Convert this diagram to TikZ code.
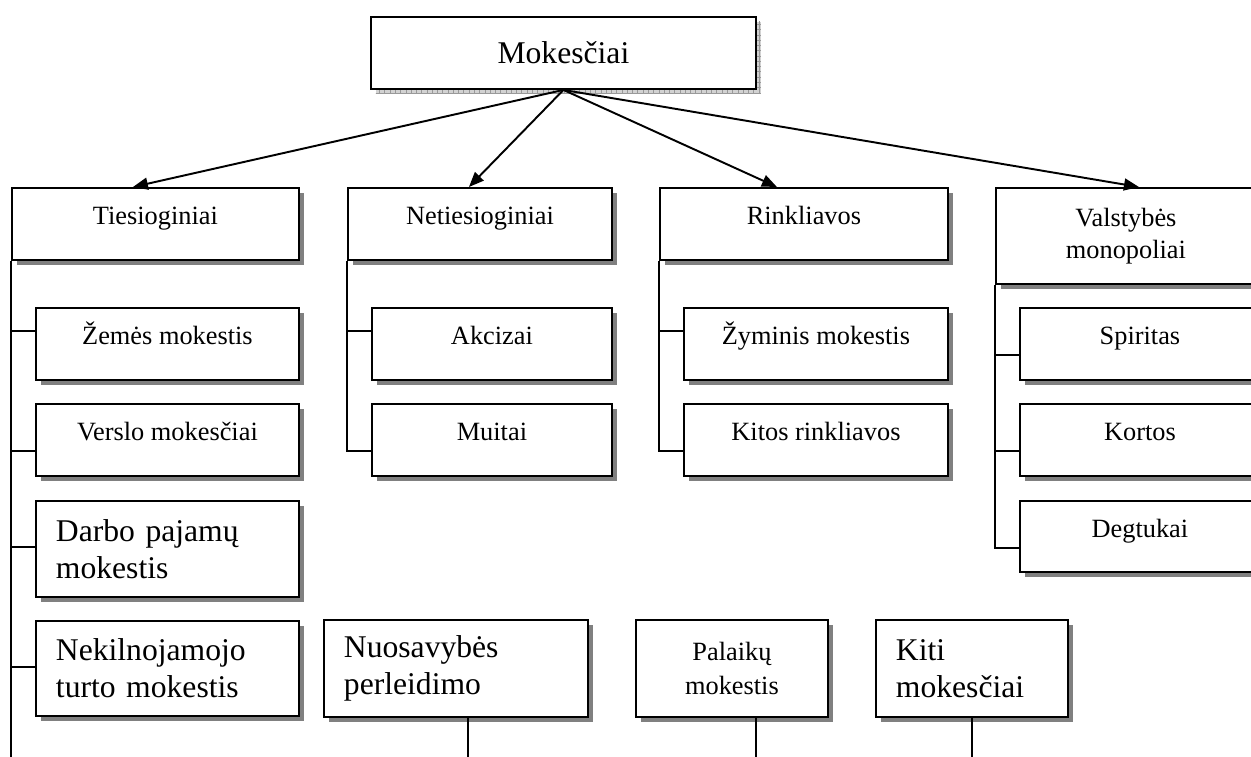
\documentclass[tikz,border=0pt]{standalone}
\usepackage{fontspec}
\setmainfont{Liberation Serif}
\usetikzlibrary{arrows.meta,shadows,patterns}
\tikzset{
    box/.style={draw, line width=1.1pt, fill=white, anchor=north west, inner sep=0pt,
        font=\fontsize{15}{18}\selectfont, align=center},
    gshadow/.style={drop shadow={shadow xshift=.1cm, shadow yshift=-.1cm, fill=black!50, opacity=1}},
    hatched/.style={drop shadow={shadow xshift=.1cm, shadow yshift=-.1cm, fill=gray!35, opacity=1},
        drop shadow={shadow xshift=.1cm, shadow yshift=-.1cm, pattern=grid, pattern color=gray!80, opacity=1}},
    one/.style={text height=11pt, text depth=10pt},
    big/.style={font=\fontsize{18}{21}\selectfont, align=left, inner xsep=.4cm},
    tree/.style={line width=1.1pt},
    arr/.style={line width=1.1pt, -{Triangle[length=.3cm,width=.24cm]}}
}
\begin{document}
\begin{tikzpicture}[x=0.02cm,y=-0.02cm]
    \clip (0,0) rectangle (1251,757);
    % main box
    \node[box, hatched, font=\fontsize{18}{21}\selectfont, minimum width=7.7cm, minimum height=1.44cm] (top) at (370,16) {Mokesčiai};
    % groups
    \node[box, gshadow, one, minimum width=5.74cm, minimum height=1.44cm] (tiesiog) at (11,187) {Tiesioginiai};
    \node[box, gshadow, one, minimum width=5.28cm, minimum height=1.44cm] (netiesiog) at (347,187) {Netiesioginiai};
    \node[box, gshadow, one, minimum width=5.76cm, minimum height=1.44cm] (rinkl) at (659,187) {Rinkliavos};
    \node[box, gshadow, minimum width=5.2cm, minimum height=1.92cm] (monop) at (995,187) {Valstybės\\monopoliai};
    % Tiesioginiai
    \node[box, gshadow, one, minimum width=5.26cm, minimum height=1.44cm] (zemes) at (35,307) {Žemės mokestis};
    \node[box, gshadow, one, minimum width=5.26cm, minimum height=1.44cm] (verslo) at (35,403) {Verslo mokesčiai};
    \node[box, gshadow, big, text width=4.46cm, minimum height=1.92cm] (darbo) at (35,500) {Darbo pajamų\\mokestis};
    \node[box, gshadow, big, text width=4.46cm, minimum height=1.9cm] (nekiln) at (35,620) {Nekilnojamojo\\turto mokestis};
    % Netiesioginiai
    \node[box, gshadow, one, minimum width=4.8cm, minimum height=1.44cm] (akciz) at (371,307) {Akcizai};
    \node[box, gshadow, one, minimum width=4.8cm, minimum height=1.44cm] (muitai) at (371,403) {Muitai};
    % Rinkliavos
    \node[box, gshadow, one, minimum width=5.28cm, minimum height=1.44cm] (zymin) at (683,307) {Žyminis mokestis};
    \node[box, gshadow, one, minimum width=5.28cm, minimum height=1.44cm] (kitosr) at (683,403) {Kitos rinkliavos};
    % Valstybes monopoliai
    \node[box, gshadow, one, minimum width=4.8cm, minimum height=1.44cm] (spirit) at (1019,307) {Spiritas};
    \node[box, gshadow, one, minimum width=4.8cm, minimum height=1.44cm] (kortos) at (1019,403) {Kortos};
    \node[box, gshadow, one, minimum width=4.8cm, minimum height=1.42cm] (degtuk) at (1019,500) {Degtukai};
    % bottom row
    \node[box, gshadow, big, text width=4.48cm, minimum height=1.94cm] (nuosav) at (323,619) {Nuosavybės\\perleidimo};
    \node[box, gshadow, minimum width=3.84cm, minimum height=1.94cm, font=\fontsize{15}{19.5}\selectfont] (palaik) at (635,619) {Palaikų\\mokestis};
    \node[box, gshadow, big, text width=3.04cm, minimum height=1.94cm] (kiti) at (875,619) {Kiti\\mokesčiai};
    % arrows
    \foreach \n/\s in {tiesiog/-.45, netiesiog/-.22, rinkl/-.54, monop/.26}
        \draw[arr] (top.south) -- ([xshift=\s cm]\n.north);
    % tree lines
    \foreach \n/\d in {zemes/.48, verslo/.96, darbo/.94, nekiln/.94}
        \draw[tree] (tiesiog.south west) |- ([yshift=-\d cm]\n.north west);
    \draw[tree] (tiesiog.south west) -- +(0,-12cm);
    \foreach \n/\d in {akciz/.48, muitai/.96}
        \draw[tree] (netiesiog.south west) |- ([yshift=-\d cm]\n.north west);
    \foreach \n/\d in {zymin/.48, kitosr/.96}
        \draw[tree] (rinkl.south west) |- ([yshift=-\d cm]\n.north west);
    \foreach \n/\d in {spirit/.96, kortos/.96, degtuk/.96}
        \draw[tree] (monop.south west) |- ([yshift=-\d cm]\n.north west);
    \foreach \n/\s in {nuosav/.24, palaik/.48, kiti/0}
        \draw[tree] ([xshift=\s cm]\n.south) -- +(0,-1cm);
\end{tikzpicture}
\end{document}
